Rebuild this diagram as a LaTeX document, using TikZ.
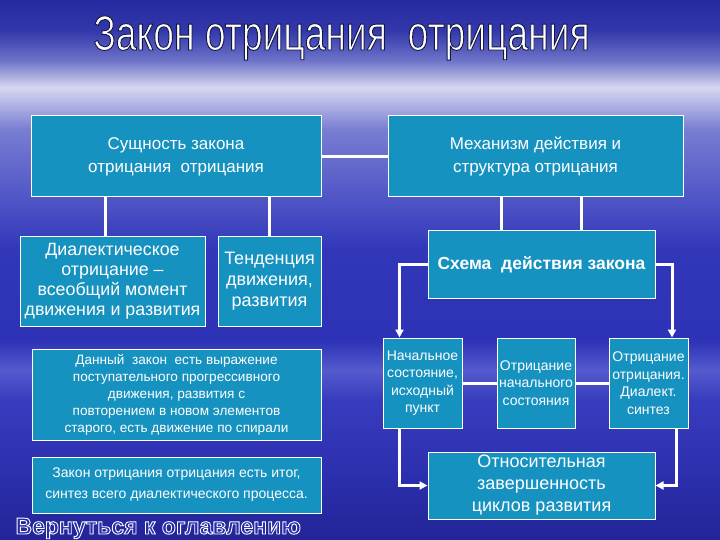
\documentclass[tikz,border=0pt]{standalone}
\usepackage{fontspec}
\setmainfont{Liberation Sans}
\newfontfamily\titlefont[FakeStretch=0.76]{Liberation Sans}
\usetikzlibrary{arrows.meta}

\definecolor{boxfill}{RGB}{22,146,192}
\definecolor{backfill}{RGB}{40,44,170}
\pgfdeclareverticalshading{slidebg}{100bp}{rgb(0bp)=(.133,.141,.588); rgb(25bp)=(.133,.141,.588);
  rgb(31.5bp)=(.176,.188,.686); rgb(38bp)=(.216,.235,.745); rgb(40.7bp)=(.333,.353,.804);
  rgb(43.5bp)=(.176,.196,.714); rgb(51.9bp)=(.196,.216,.725); rgb(57.4bp)=(.333,.353,.784);
  rgb(63bp)=(.471,.490,.824); rgb(66.9bp)=(.843,.843,.941); rgb(69.4bp)=(.431,.451,.784);
  rgb(72.2bp)=(.196,.216,.667); rgb(75bp)=(.149,.165,.627); rgb(100bp)=(.149,.165,.627)}
\newcommand\edgetext[3]{\special{pdf:code 2 Tr #2 w #1 RG}#3\special{pdf:code 0 Tr}}

\begin{document}
\begin{tikzpicture}[x=1pt,y=-1pt,
  box/.style={draw=white,line width=1pt,fill=boxfill,text=white,align=center,inner sep=0pt},
  link/.style={draw=white,line width=3pt},
  arr/.style={link,-{Triangle[length=8pt,width=8pt]}},
  titletext/.style={anchor=base,font=\titlefont\fontsize{49}{49}\selectfont,text=white},
  backtext/.style={anchor=base west,font=\bfseries\fontsize{23}{23}\selectfont,text=backfill}]
\useasboundingbox (0,0) rectangle (720,540);
\shade[shading=slidebg] (0,0) rectangle (720,540);

\node[titletext] (title) at (341.5,50) {\edgetext{0.08 0.09 0.27}{0.9}{Закон отрицания\ \ отрицания}};

\node[box,minimum width=290,minimum height=81,font=\fontsize{17}{23}\selectfont] (essence) at (176,156.5) {Сущность закона\\отрицания\ \ отрицания};
\node[box,minimum width=295,minimum height=81,font=\fontsize{17}{23}\selectfont] (mechanism) at (535.5,156.5) {Механизм действия и\\структура отрицания};
\node[box,minimum width=185,minimum height=90,font=\fontsize{17.8}{20}\selectfont] (dialectic) at (112.5,281) {Диалектическое\\отрицание --\\всеобщий момент\\движения и развития};
\node[box,minimum width=103,minimum height=90,font=\fontsize{18}{21}\selectfont] (tendency) at (269.5,281) {Тенденция\\движения,\\развития};
\node[box,minimum width=227,minimum height=67,font=\bfseries\fontsize{17.5}{19}\selectfont] (scheme) at (541.5,264.5) {Схема\ \ действия закона};
\node[box,minimum width=79,minimum height=90,font=\fontsize{14}{17.5}\selectfont] (initial) at (422.5,383) {Начальное\\состояние,\\исходный\\пункт};
\node[box,minimum width=78,minimum height=90,font=\fontsize{14}{17.5}\selectfont] (negation) at (536,383) {Отрицание\\начального\\состояния};
\node[box,minimum width=79,minimum height=90,font=\fontsize{14}{17.5}\selectfont] (synthesis) at (648.5,383) {Отрицание\\отрицания.\\Диалект.\\синтез};
\node[box,minimum width=227,minimum height=67,font=\fontsize{18}{22}\selectfont] (cycles) at (541.5,485.5) {Относительная\\завершенность\\циклов развития};
\node[box,minimum width=289,minimum height=91,font=\fontsize{13.6}{17}\selectfont] (spiral) at (176.5,394.5) {Данный\ \ закон\ \ есть выражение\\поступательного прогрессивного\\движения, развития с\\повторением в новом элементов\\старого, есть движение по спирали};
\node[box,minimum width=289,minimum height=56,font=\fontsize{14}{21}\selectfont] (result) at (176.5,485) {Закон отрицания отрицания есть итог,\\синтез всего диалектического процесса.};

\draw[link] (essence) -- (mechanism);
\draw[link] (essence.south -| 105,0) -- (105,0 |- dialectic.north);
\draw[link] (tendency.north) -- (tendency.north |- essence.south);
\draw[link] ([xshift=-40pt]scheme.north) -- ([xshift=-40pt]scheme.north |- mechanism.south);
\draw[link] ([xshift=40pt]scheme.north) -- ([xshift=40pt]scheme.north |- mechanism.south);
\draw[arr] (scheme.west) -| ([xshift=-23pt]initial.north);
\draw[arr] (scheme.east) -| ([xshift=23.5pt]synthesis.north);
\draw[link] (initial) -- (negation);
\draw[link] (negation) -- (synthesis);
\draw[arr] ([xshift=-23pt]initial.south) |- (cycles.west);
\draw[arr] ([xshift=28pt]synthesis.south) |- (cycles.east);

\node[backtext] (backlink) at (12,534) {\edgetext{1 1 1}{0.9}{Вернуться к оглавлению}};
\end{tikzpicture}
\end{document}
